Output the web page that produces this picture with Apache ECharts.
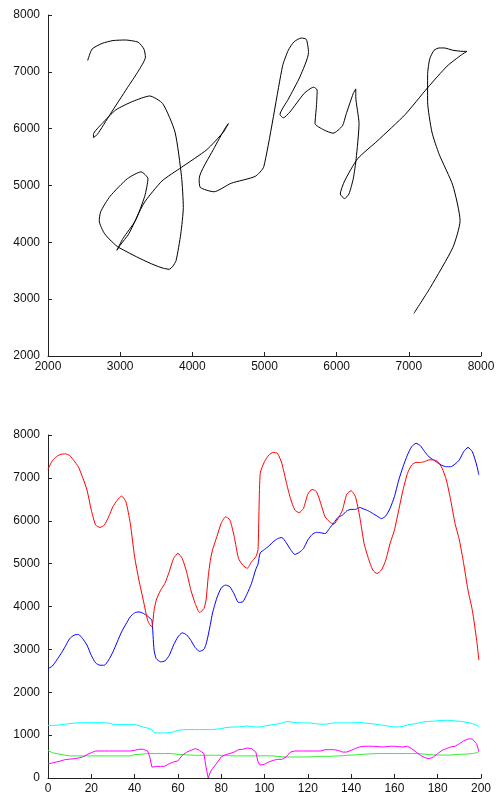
<!DOCTYPE html>
<html>
<head>
<meta charset="utf-8">
<script src="https://cdn.jsdelivr.net/npm/echarts@6/dist/echarts.min.js"></script>
<style>
html,body{margin:0;padding:0;background:#fff;}
#chart{width:503px;height:795px;}
</style>
</head>
<body>
<div id="chart"></div>
<script>
// sample indices
var samples = [0,2,4,6,8,10,12,14,16,18,20,22,24,26,28,30,32,34,36,38,40,42,44,46,47,48,49,50,52,54,56,58,60,62,64,66,68,70,72,73,74,75,76,78,80,82,84,86,88,90,92,94,96,97,98,100,102,104,106,108,110,112,114,116,118,120,122,124,126,128,130,132,134,136,138,140,142,144,146,148,150,152,154,156,158,160,162,164,166,168,170,172,174,176,178,180,182,184,186,188,190,192,194,196,198,199];

// pen x (blue)
var penX = [2550,2610,2750,2900,3070,3250,3330,3350,3250,3100,2860,2685,2630,2630,2750,2940,3175,3410,3590,3760,3850,3875,3840,3775,3730,3680,2980,2785,2710,2730,2860,3100,3290,3385,3340,3210,3040,2955,3000,3120,3330,3580,3850,4200,4430,4500,4460,4290,4095,4110,4300,4540,4870,4990,5250,5330,5410,5510,5580,5610,5490,5330,5215,5260,5350,5550,5680,5730,5720,5700,5820,5950,6080,6130,6230,6265,6265,6310,6270,6230,6170,6110,6050,6110,6290,6560,6950,7260,7530,7730,7805,7750,7610,7490,7420,7350,7290,7260,7260,7320,7420,7610,7710,7610,7300,7070];

// pen y (red)
var penY = [7200,7400,7500,7550,7560,7520,7400,7260,7010,6720,6250,5900,5845,5900,6090,6330,6480,6575,6440,5940,5160,4615,4150,3680,3580,3525,3910,4150,4380,4540,4810,5120,5240,5120,4810,4380,4070,3860,3950,4150,4690,5080,5320,5630,5940,6090,6020,5630,5120,4965,4890,5040,5160,5330,7100,7380,7530,7595,7570,7340,6910,6520,6250,6190,6290,6620,6730,6680,6400,6090,5980,5920,6050,6250,6620,6700,6560,6090,5470,5120,4850,4770,4850,5080,5470,5780,6250,6720,7100,7300,7360,7360,7380,7420,7420,7380,7230,6950,6480,5940,5550,5000,4380,3910,3210,2750];

// cyan
var chanC = [1230,1225,1230,1240,1255,1270,1280,1285,1290,1290,1290,1290,1290,1290,1280,1255,1250,1250,1250,1250,1245,1225,1190,1165,1150,1120,1060,1050,1050,1050,1060,1075,1110,1125,1130,1130,1130,1130,1130,1130,1130,1130,1130,1140,1150,1175,1185,1190,1190,1200,1215,1200,1190,1190,1190,1210,1230,1245,1260,1285,1315,1310,1295,1285,1285,1285,1280,1265,1255,1255,1270,1285,1285,1285,1285,1285,1290,1300,1285,1270,1265,1250,1235,1220,1205,1190,1190,1205,1240,1255,1270,1295,1310,1320,1325,1335,1345,1345,1345,1330,1325,1310,1295,1270,1230,1200];

// green
var chanG = [645,590,570,550,530,515,515,515,515,515,515,515,515,515,515,515,515,515,515,515,545,550,560,570,570,570,570,570,570,570,570,565,550,545,540,535,530,530,530,530,530,530,530,530,530,525,520,515,515,515,515,515,515,515,515,520,515,515,505,495,490,490,490,490,490,490,495,500,505,505,505,510,515,520,530,535,540,545,555,560,565,570,570,570,570,570,570,570,570,570,570,565,555,545,540,535,535,535,535,545,550,555,560,570,590,615];

// magenta
var chanM = [335,350,375,400,430,440,450,465,490,545,590,630,630,630,630,630,630,630,630,630,645,670,670,630,490,255,260,270,270,275,335,375,400,530,600,645,685,645,570,255,0,140,220,350,490,545,570,605,660,670,700,685,605,375,300,320,375,410,435,435,490,605,630,630,630,630,630,630,630,660,660,660,645,605,605,645,690,725,740,740,740,735,725,730,740,740,730,725,740,685,605,530,475,450,490,570,645,685,725,740,800,865,910,910,800,620];

function pairs(xs, ys){ var r=[]; for(var i=0;i<xs.length;i++){ r.push([xs[i], ys[i]]); } return r; }

var FONT = 'Liberation Sans, Arial, sans-serif';
function ax(extra, margin){
  var o = {
    type:'value',
    axisLine:{show:true, onZero:false, lineStyle:{color:'#222', width:1}},
    axisTick:{show:true, inside:true, length:4, lineStyle:{color:'#222'}},
    axisLabel:{color:'#111', fontSize:12, margin:margin, fontFamily:FONT, formatter:function(v){return String(v);}},
    splitLine:{show:false}
  };
  for (var k in extra) o[k]=extra[k];
  return o;
}

var chart = echarts.init(document.getElementById('chart'), null, {renderer:'canvas'});
chart.setOption({
  animation:false,
  backgroundColor:'#fff',
  grid:[
    {left:48, top:15, width:433, height:341},
    {left:48, top:435, width:433, height:343}
  ],
  xAxis:[
    ax({gridIndex:0, min:2000, max:8000, interval:1000}, 5),
    ax({gridIndex:1, min:0, max:200, interval:20}, 5)
  ],
  yAxis:[
    ax({gridIndex:0, min:2000, max:8000, interval:1000}, 8),
    ax({gridIndex:1, min:0, max:8000, interval:1000}, 8)
  ],
  series:[
    {type:'line', xAxisIndex:0, yAxisIndex:0, data:pairs(penX, penY), showSymbol:false, smooth:0.2, lineStyle:{color:'#000', width:1}},
    {type:'line', xAxisIndex:1, yAxisIndex:1, data:pairs(samples, penX), showSymbol:false, smooth:0.2, lineStyle:{color:'#0000ff', width:1}},
    {type:'line', xAxisIndex:1, yAxisIndex:1, data:pairs(samples, penY), showSymbol:false, smooth:0.2, lineStyle:{color:'#ff0000', width:1}},
    {type:'line', xAxisIndex:1, yAxisIndex:1, data:pairs(samples, chanC), showSymbol:false, lineStyle:{color:'#00ffff', width:1}},
    {type:'line', xAxisIndex:1, yAxisIndex:1, data:pairs(samples, chanG), showSymbol:false, lineStyle:{color:'#33ee33', width:1}},
    {type:'line', xAxisIndex:1, yAxisIndex:1, data:pairs(samples, chanM), showSymbol:false, lineStyle:{color:'#ff00ff', width:1}}
  ]
});
</script>
</body>
</html>
